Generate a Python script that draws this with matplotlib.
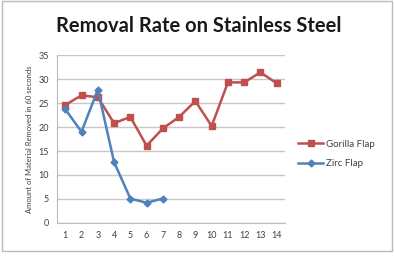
import matplotlib
matplotlib.use("Agg")
import matplotlib.pyplot as plt
from matplotlib.patches import Rectangle

# ── Data ─────────────────────────────────────────────────────────────────────
trials = list(range(1, 15))
gorilla = [24.6, 26.6, 26.2, 20.8, 22.1, 16.1, 19.7, 22.1, 25.4, 20.2, 29.3, 29.3, 31.4, 29.1]
zirc_trials = list(range(1, 8))
zirc = [23.7, 19.0, 27.8, 12.7, 5.1, 4.2, 5.1]

RED = "#C0504D"
BLUE = "#4F81BD"
plt.rcParams["font.family"] = ["Lato", "DejaVu Sans"]

fig = plt.figure(figsize=(3.94, 2.56), dpi=100)
fig.patches.append(Rectangle((0.004, 0.02), 0.99, 0.975, transform=fig.transFigure,
                             fill=False, edgecolor="#BBBBBB", linewidth=1.0))
ax = fig.add_axes([0.145, 0.129, 0.578, 0.656])

ax.plot(trials, gorilla, color=RED, marker="s", markersize=4.5, linewidth=1.8,
        label="Gorilla Flap")
ax.plot(zirc_trials, zirc, color=BLUE, marker="D", markersize=3.5, linewidth=1.8,
        label="Zirc Flap")

ax.set_xlim(0.5, 14.5)
ax.set_ylim(0, 35)
ax.set_xticks(trials)
ax.set_yticks(range(0, 36, 5))
ax.tick_params(labelsize=6.5, length=0, colors="#404040", pad=6)
ax.yaxis.grid(True, color="#C8C8C8", linewidth=1.0)
ax.set_axisbelow(True)
for s in ["top", "right"]:
    ax.spines[s].set_visible(False)
for s in ["left", "bottom"]:
    ax.spines[s].set_color("#BBBBBB")

ax.set_ylabel("Amount of Material Removed in 60 seconds", fontsize=5.5, color="#404040",
              labelpad=4)
fig.text(0.505, 0.898, "Removal Rate on Stainless Steel", ha="center", va="center",
         fontsize=14.5, fontweight="bold", color="#1a1a1a")

ax.legend(loc="center left", bbox_to_anchor=(1.02, 0.41), frameon=False, fontsize=7,
          handlelength=2.6, labelspacing=1.1, handletextpad=0.3, labelcolor="#404040")

fig.savefig("out.png", dpi=100)
